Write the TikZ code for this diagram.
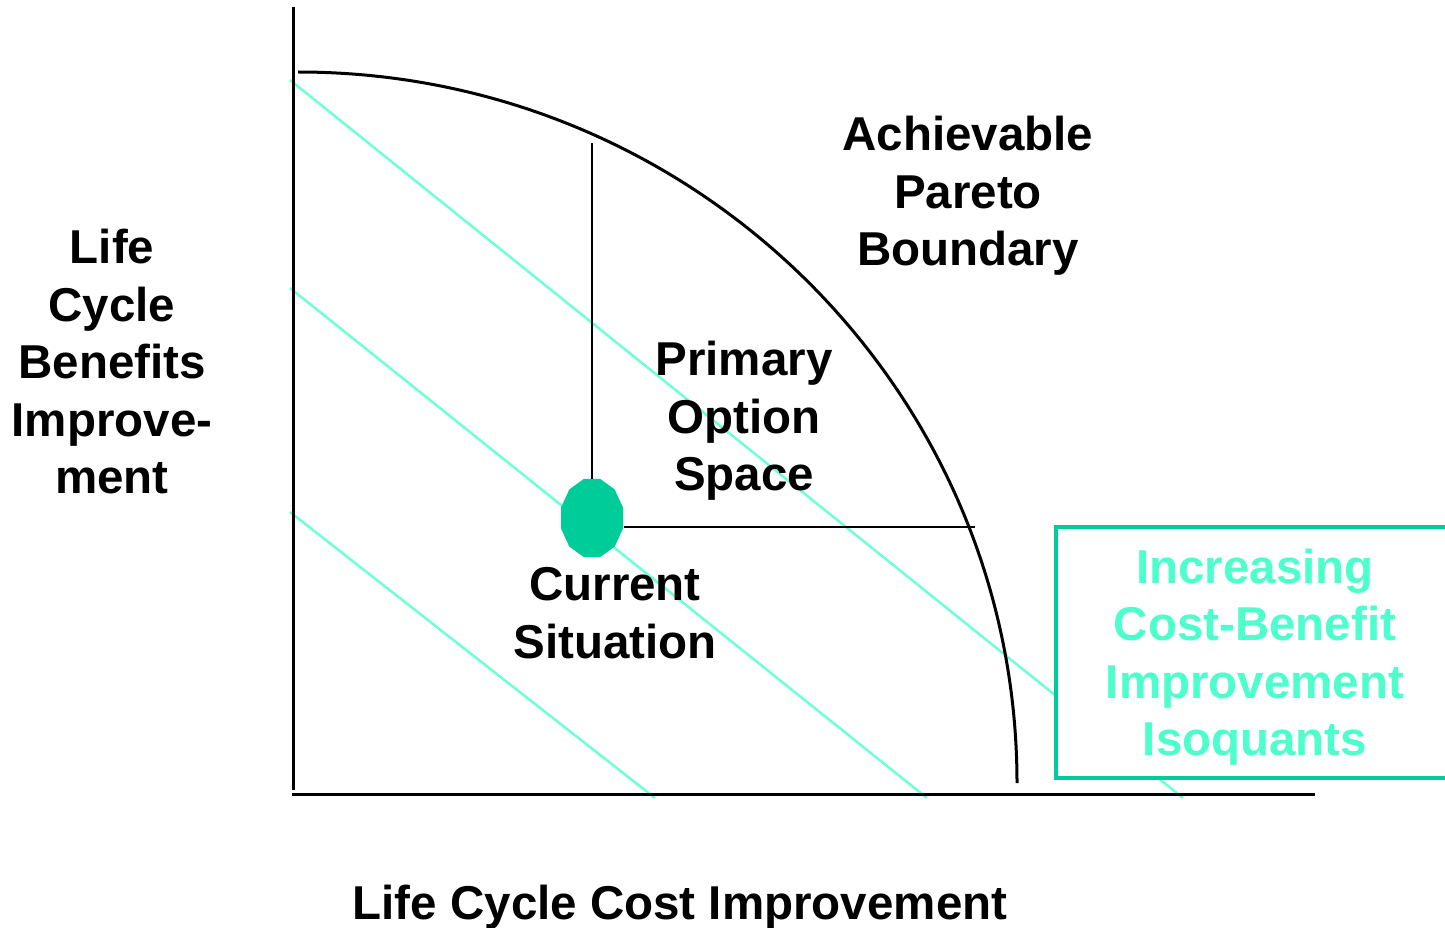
\documentclass[tikz,border=0pt]{standalone}
\usepackage{fontspec}
\setmainfont{Liberation Sans}
\begin{document}
\begin{tikzpicture}[x=1pt,y=-1pt,
  axis/.style={line width=3pt,black},
  frontier/.style={line width=3pt,black},
  guide/.style={line width=2.5pt,black},
  isoquant/.style={line width=2.5pt,isocol},
  label/.style={font=\fontsize{47.5}{57.5}\selectfont\bfseries,align=center,inner sep=0pt},
  legendtext/.style={label,text=legtext},
  legendbox/.style={line width=4.5pt,draw=boxgreen,fill=white}
]
\definecolor{isocol}{RGB}{110,255,214}
\definecolor{legtext}{RGB}{77,255,204}
\definecolor{boxgreen}{RGB}{0,204,153}
\useasboundingbox (0,0) rectangle (1445,928);

% iso-quant lines
\coordinate (i1a) at (290,80);  \coordinate (i1b) at (1183,798);
\coordinate (i2a) at (290,288); \coordinate (i2b) at (927,798);
\coordinate (i3a) at (290,512); \coordinate (i3b) at (655,798);
\draw[isoquant] (i1a) -- (i1b);
\draw[isoquant] (i2a) -- (i2b);
\draw[isoquant] (i3a) -- (i3b);

% axes
\coordinate (ytop) at (293,7);   \coordinate (ybot) at (293,790);
\coordinate (xl) at (292,794);   \coordinate (xr) at (1315,794);
\draw[axis] (ytop) -- (ybot);
\draw[axis] (xl) -- (xr);

% Pareto boundary (quarter ellipse)
\coordinate (fstart) at (298,72);
\draw[frontier] (fstart) arc[start angle=90,end angle=0,x radius=719pt,y radius=711pt];

% current situation marker
\fill[boxgreen] plot[samples at={15,45,...,345}] ({592+32.1*cos(\x)},{518+40.4*sin(\x)}) -- cycle;
\coordinate (curtop) at (592,479);
\coordinate (curright) at (624,527);
\coordinate (vtop) at (592,143);
\coordinate (hright) at (975,527);
\draw[guide] (curtop) -- (vtop);
\draw[guide] (curright) -- (hright);

% legend box
\draw[legendbox] (1056,527) rectangle (1470,778);
\node[legendtext] (leg) at (1255,657) {Increasing\\Cost-Benefit\\Improvement\\Isoquants};

% labels
\node[label] (ylab) at (112,362) {Life\\Cycle\\Benefits\\Improve-\\ment};
\node[label] (pareto) at (968,196) {Achievable\\Pareto\\Boundary};
\node[label] (pos) at (744,421) {Primary\\Option\\Space};
\node[label] (cur) at (615,613) {Current\\Situation};
\node[label] (xlab) at (680,907) {Life Cycle Cost Improvement};
\end{tikzpicture}
\end{document}
